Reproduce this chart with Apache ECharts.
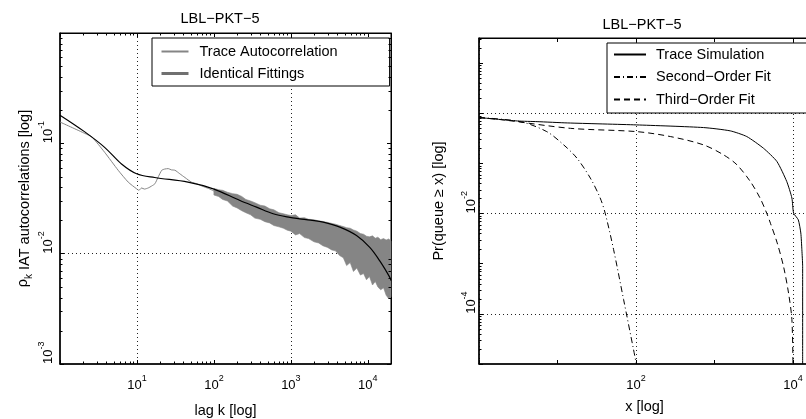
<!DOCTYPE html>
<html>
<head>
<meta charset="utf-8">
<script src="https://cdn.jsdelivr.net/npm/echarts@6/dist/echarts.min.js"></script>
<style>
html,body{margin:0;padding:0;background:#fff;}
#chart{width:806px;height:419px;}
</style>
</head>
<body>
<div id="chart"></div>
<script>
// ---------- Left panel: IAT autocorrelation ----------
const leftTitle = 'LBL\u2212PKT\u22125';
const rightTitle = 'LBL\u2212PKT\u22125';
const leftLegend = ['Trace Autocorrelation', 'Identical Fittings'];
const rightLegend = ['Trace Simulation', 'Second\u2212Order Fit', 'Third\u2212Order Fit'];

// trace autocorrelation (thin gray line at small lags)
const traceK = [1, 2.1, 2.6, 3.8, 5.7, 7.7, 9.9, 10.6, 11.5, 12.5, 14, 15.5, 17.1, 19, 21, 23, 25.5, 28, 31.2, 36, 42, 51, 60, 70, 85, 100, 120];
const traceV = [0.156, 0.123, 0.114, 0.083, 0.057, 0.0445, 0.0387, 0.0375, 0.0394, 0.0385, 0.0394, 0.041, 0.043, 0.050, 0.057, 0.0585, 0.059, 0.0575, 0.057, 0.053, 0.049, 0.0445, 0.043, 0.041, 0.039, 0.037, 0.035];
// noisy part of the trace: upper / lower envelope
const bandK     = [100, 115, 130, 150, 175, 200, 230, 260, 300, 340, 400, 460, 530, 600, 700, 800, 900, 1000, 1150, 1300, 1500, 1700, 2000, 2300, 2600, 3000, 3400, 3800, 4300, 4800, 5300, 5900, 6500, 7200, 8000, 8800, 9600, 10500, 11500, 12500, 13500, 14700, 16000, 17300, 18700, 20000];
const bandUpper = [0.039, 0.038, 0.0375, 0.036, 0.035, 0.0345, 0.033, 0.031, 0.030, 0.029, 0.0275, 0.027, 0.0255, 0.025, 0.0235, 0.023, 0.0225, 0.0222, 0.0225, 0.021, 0.0212, 0.0205, 0.0203, 0.0198, 0.0196, 0.0192, 0.0188, 0.0185, 0.018, 0.0176, 0.0172, 0.017, 0.0164, 0.016, 0.0152, 0.0150, 0.0144, 0.0142, 0.0145, 0.0138, 0.0141, 0.0134, 0.0137, 0.0133, 0.0136, 0.013];
const bandLower = [0.034, 0.033, 0.031, 0.030, 0.027, 0.026, 0.0245, 0.0235, 0.0225, 0.021, 0.0205, 0.0195, 0.019, 0.018, 0.0175, 0.017, 0.0163, 0.0160, 0.0148, 0.0152, 0.014, 0.0137, 0.0128, 0.0125, 0.0118, 0.0114, 0.0108, 0.0106, 0.0096, 0.0092, 0.0078, 0.0083, 0.0069, 0.0074, 0.0064, 0.0066, 0.0058, 0.0062, 0.0052, 0.0056, 0.0050, 0.0047, 0.0049, 0.0042, 0.0039, 0.0041];
// fitted autocorrelation
const fitK = [1, 2.1, 3.8, 6.3, 9.9, 17, 46, 98, 218, 358, 589, 970, 1300, 1800, 2630, 4330, 7130, 10600, 14300, 19300, 20000];
const fitV = [0.18, 0.127, 0.092, 0.065, 0.053, 0.049, 0.0445, 0.0387, 0.0303, 0.0264, 0.023, 0.0213, 0.0207, 0.0201, 0.0193, 0.0174, 0.0146, 0.0114, 0.0086, 0.0061, 0.0057];

// ---------- Right panel: queue tail ----------
const simX = [1, 3.1, 5.5, 13.5, 102, 725, 1590, 2580, 4220, 6250, 8330, 9700, 10200, 11700, 12600, 13000, 13300, 13300];
const simP = [0.82, 0.70, 0.68, 0.64, 0.585, 0.518, 0.445, 0.343, 0.20, 0.109, 0.0437, 0.0204, 0.0102, 0.0075, 0.0041, 0.0019, 0.00087, 0.00001];
const secX = [1, 3.36, 7.3, 12, 17.7, 26.2, 35, 40.5, 51.9, 69.5, 93, 101];
const secP = [0.82, 0.68, 0.43, 0.234, 0.127, 0.051, 0.0204, 0.0102, 0.0019, 0.000194, 0.0000196, 0.00001];
const thrX = [1, 2.06, 14.6, 102, 274, 725, 1306, 1930, 2860, 3810, 4630, 5170, 6300, 7600, 8790, 9700, 10000];
const thrP = [0.82, 0.735, 0.50, 0.43, 0.343, 0.234, 0.148, 0.094, 0.0437, 0.0204, 0.0102, 0.0064, 0.0026, 0.00087, 0.00026, 0.000077, 0.00001];

// minor tick values (2..9 per decade)
const minorMult = [2, 3, 4, 5, 6, 7, 8, 9];
const leftXDecades = [1, 10, 100, 1000, 10000];
const leftYDecades = [0.001, 0.01, 0.1];
const rightYDecades = [0.00001, 0.0001, 0.001, 0.01, 0.1, 1, 10];

const FONT = "'Liberation Sans', Arial, Helvetica, sans-serif";
const FS = 14.5;
const zip = (a, b) => a.map((v, i) => [v, b[i]]);
const dotted = [1, 3];
const richExp = {
  b: {fontSize: 13, fontFamily: FONT, color: '#000', lineHeight: 18, verticalAlign: 'bottom'},
  s: {fontSize: 9, fontFamily: FONT, color: '#000', lineHeight: 10, verticalAlign: 'top'}
};
function expLabel(show) {
  return function (v) {
    const e = Math.round(Math.log10(v));
    if (Math.abs(Math.log10(v) - e) > 1e-6) return '';
    return show.indexOf(e) >= 0 ? '{b|10}{s|' + e + '}' : '';
  };
}
function xAxisCfg(grid, min, max, show, splitColors, margin) {
  return {
    type: 'log', logBase: 10, gridIndex: grid, min: min, max: max, interval: 1,
    axisLine: {show: true, onZero: false, lineStyle: {color: '#000', width: 1.5}},
    axisTick: {show: true, inside: true, length: 4, lineStyle: {color: '#000'}},
    axisLabel: {show: true, margin: margin, formatter: expLabel(show), rich: richExp, color: '#000', fontFamily: FONT, hideOverlap: false},
    splitLine: {show: true, lineStyle: {color: splitColors, type: dotted, width: 1}}
  };
}
function yAxisCfg(grid, min, max, show, splitColors, margin) {
  return {
    type: 'log', logBase: 10, gridIndex: grid, min: min, max: max, interval: 1,
    axisLine: {show: true, onZero: false, lineStyle: {color: '#000', width: 1.5}},
    axisTick: {show: true, inside: true, length: 4, lineStyle: {color: '#000'}},
    axisLabel: {show: true, margin: margin, rotate: 90, align: 'left', verticalAlign: 'bottom', formatter: expLabel(show), rich: richExp, color: '#000', fontFamily: FONT, hideOverlap: false},
    splitLine: {show: true, lineStyle: {color: splitColors, type: dotted, width: 1}}
  };
}
function mirror(cfg, pos) {
  return Object.assign({}, cfg, {
    position: pos, name: '',
    axisLine: {show: true, onZero: false, lineStyle: {color: '#000', width: 1}},
    axisLabel: {show: false},
    splitLine: {show: false}
  });
}
const NONE = 'rgba(0,0,0,0)';
const DOT = '#222';

const lx = xAxisCfg(0, 1, 20000, [1, 2, 3, 4], [NONE, DOT], 10);
const ly = yAxisCfg(0, 0.001, 1, [-3, -2, -1], [NONE, DOT], 5);
const rx = xAxisCfg(1, 1, 16500, [2, 4], [DOT, NONE], 10);
const ry = yAxisCfg(1, 0.00001, Math.pow(10, 1.5), [-2, -4], [NONE, DOT], 1);

const lxm = mirror(lx, 'top'), rxm = mirror(rx, 'top'), lym = mirror(ly, 'right');

const nameStyle = {fontSize: FS, fontFamily: FONT, color: '#000'};
lx.name = 'lag k [log]'; lx.nameLocation = 'middle'; lx.nameGap = 39; lx.nameTextStyle = nameStyle;
rx.name = 'x [log]'; rx.nameLocation = 'middle'; rx.nameGap = 35; rx.nameTextStyle = nameStyle;
ly.name = '{r|\u03c1}{k|k} IAT autocorrelations [log]'; ly.nameLocation = 'middle'; ly.nameGap = 26;
ly.nameTextStyle = {fontSize: FS, fontFamily: FONT, color: '#000', rich: {
  r: {fontSize: FS, fontFamily: FONT, color: '#000', lineHeight: 19, verticalAlign: 'top'},
  k: {fontSize: 10, fontFamily: FONT, color: '#000', lineHeight: 10, verticalAlign: 'bottom'}
}};
ry.name = 'Pr(queue \u2265 x) [log]'; ry.nameLocation = 'middle'; ry.nameGap = 33; ry.nameTextStyle = nameStyle;

const legendText = {fontSize: FS, fontFamily: FONT, color: '#000', padding: [0, 0, 0, 6]};

function expand(decades, lo, hi) {
  const out = [];
  decades.forEach(d => minorMult.forEach(m => { const v = d * m; if (v > lo && v < hi) out.push(v); }));
  return out;
}
// minor ticks drawn through the axes' scales
function minorTickSeries(gridIdx, xVals, yVals, sides, yRef, xRef) {
  return {
    type: 'custom', coordinateSystem: 'cartesian2d', xAxisIndex: gridIdx, yAxisIndex: gridIdx,
    silent: true, z: 5, clip: false, data: [[xRef, yRef]],
    renderItem: function (params, api) {
      const cs = params.coordSys;
      const L = 2.5, children = [];
      const st = {stroke: '#000', lineWidth: 1};
      xVals.forEach(v => {
        const px = Math.round(api.coord([v, yRef])[0]) + 0.5;
        if (sides.indexOf('b') >= 0) children.push({type: 'line', shape: {x1: px, y1: cs.y + cs.height, x2: px, y2: cs.y + cs.height - L}, style: st});
        if (sides.indexOf('t') >= 0) children.push({type: 'line', shape: {x1: px, y1: cs.y, x2: px, y2: cs.y + L}, style: st});
      });
      yVals.forEach(v => {
        const py = Math.round(api.coord([xRef, v])[1]) + 0.5;
        if (sides.indexOf('l') >= 0) children.push({type: 'line', shape: {x1: cs.x, y1: py, x2: cs.x + L, y2: py}, style: st});
        if (sides.indexOf('r') >= 0) children.push({type: 'line', shape: {x1: cs.x + cs.width, y1: py, x2: cs.x + cs.width - L, y2: py}, style: st});
      });
      return {type: 'group', children: children};
    }
  };
}

const option = {
  animation: false,
  backgroundColor: '#fff',
  title: [
    {text: leftTitle, left: 215, top: 6, textAlign: 'center', textStyle: {fontSize: FS, fontWeight: 'normal', fontFamily: FONT, color: '#000'}},
    {text: rightTitle, left: 637, top: 12, textAlign: 'center', textStyle: {fontSize: FS, fontWeight: 'normal', fontFamily: FONT, color: '#000'}}
  ],
  grid: [
    {left: 60, right: 415, top: 33, bottom: 55, show: true, borderColor: '#000', borderWidth: 1, backgroundColor: '#fff', outerBoundsMode: 'none', containLabel: false},
    {left: 479, right: -4, top: 38, bottom: 55, show: true, borderColor: '#000', borderWidth: 1, backgroundColor: '#fff', outerBoundsMode: 'none', containLabel: false}
  ],
  xAxis: [lx, rx, lxm, rxm],
  yAxis: [ly, ry, lym],
  legend: [
    {
      left: 152, top: 38, orient: 'vertical', itemWidth: 27, itemHeight: 17, itemGap: 7,
      padding: [6, 52, 5, 8], borderColor: '#000', borderWidth: 1, backgroundColor: '#fff',
      textStyle: legendText, selectedMode: false, itemStyle: {opacity: 0},
      data: [leftLegend[0], {name: leftLegend[1], itemStyle: {opacity: 0}, lineStyle: {color: '#707070', width: 3}}]
    },
    {
      left: 607, top: 43, orient: 'vertical', itemWidth: 32, itemHeight: 17, itemGap: 7.5,
      padding: [4, 80, 6, 6], borderColor: '#000', borderWidth: 1, backgroundColor: '#fff',
      textStyle: Object.assign({}, legendText, {padding: [0, 0, 0, 5]}), selectedMode: false, itemStyle: {opacity: 0},
      data: rightLegend
    }
  ],
  series: [
    {
      name: 'noise', type: 'custom', coordinateSystem: 'cartesian2d', xAxisIndex: 0, yAxisIndex: 0,
      silent: true, z: 2, data: [[bandK[0], bandUpper[0]]],
      renderItem: function (params, api) {
        const pts = [];
        for (let i = 0; i < bandK.length; i++) pts.push(api.coord([bandK[i], bandUpper[i]]));
        for (let i = bandK.length - 1; i >= 0; i--) pts.push(api.coord([bandK[i], bandLower[i]]));
        return {type: 'polygon', shape: {points: pts}, style: {fill: '#858585', stroke: '#858585', lineWidth: 0.6}};
      }
    },
    {
      name: leftLegend[0], type: 'line', xAxisIndex: 0, yAxisIndex: 0, z: 3,
      data: zip(traceK, traceV), showSymbol: false, symbol: 'none', smooth: 0.2,
      lineStyle: {color: '#858585', width: 1}, itemStyle: {color: '#858585'}
    },
    {
      name: leftLegend[1], type: 'line', xAxisIndex: 0, yAxisIndex: 0, z: 4,
      data: zip(fitK, fitV), showSymbol: false, symbol: 'none', smooth: 0.35,
      lineStyle: {color: '#000', width: 1.2}, itemStyle: {color: '#000'}
    },
    {
      name: rightLegend[0], type: 'line', xAxisIndex: 1, yAxisIndex: 1, z: 4,
      data: zip(simX, simP), showSymbol: false, symbol: 'none', smooth: 0.2,
      lineStyle: {color: '#000', width: 1}, itemStyle: {color: '#000'}
    },
    {
      name: rightLegend[1], type: 'line', xAxisIndex: 1, yAxisIndex: 1, z: 4,
      data: zip(secX, secP), showSymbol: false, symbol: 'none', smooth: 0.3,
      lineStyle: {color: '#000', width: 1, type: [6, 3, 1, 3]}, itemStyle: {color: '#000'}
    },
    {
      name: rightLegend[2], type: 'line', xAxisIndex: 1, yAxisIndex: 1, z: 4,
      data: zip(thrX, thrP), showSymbol: false, symbol: 'none', smooth: 0.3,
      lineStyle: {color: '#000', width: 1, type: [6, 4]}, itemStyle: {color: '#000'}
    },
    minorTickSeries(0, expand(leftXDecades, 1, 20000), expand(leftYDecades, 0.001, 1), 'btlr', 0.001, 1),
    minorTickSeries(1, [], expand(rightYDecades, 0.00001, 31.6), 'l', 0.00001, 1)
  ]
};
const chart = echarts.init(document.getElementById('chart'), null, {renderer: 'canvas'});
chart.setOption(option);
</script>
</body>
</html>
